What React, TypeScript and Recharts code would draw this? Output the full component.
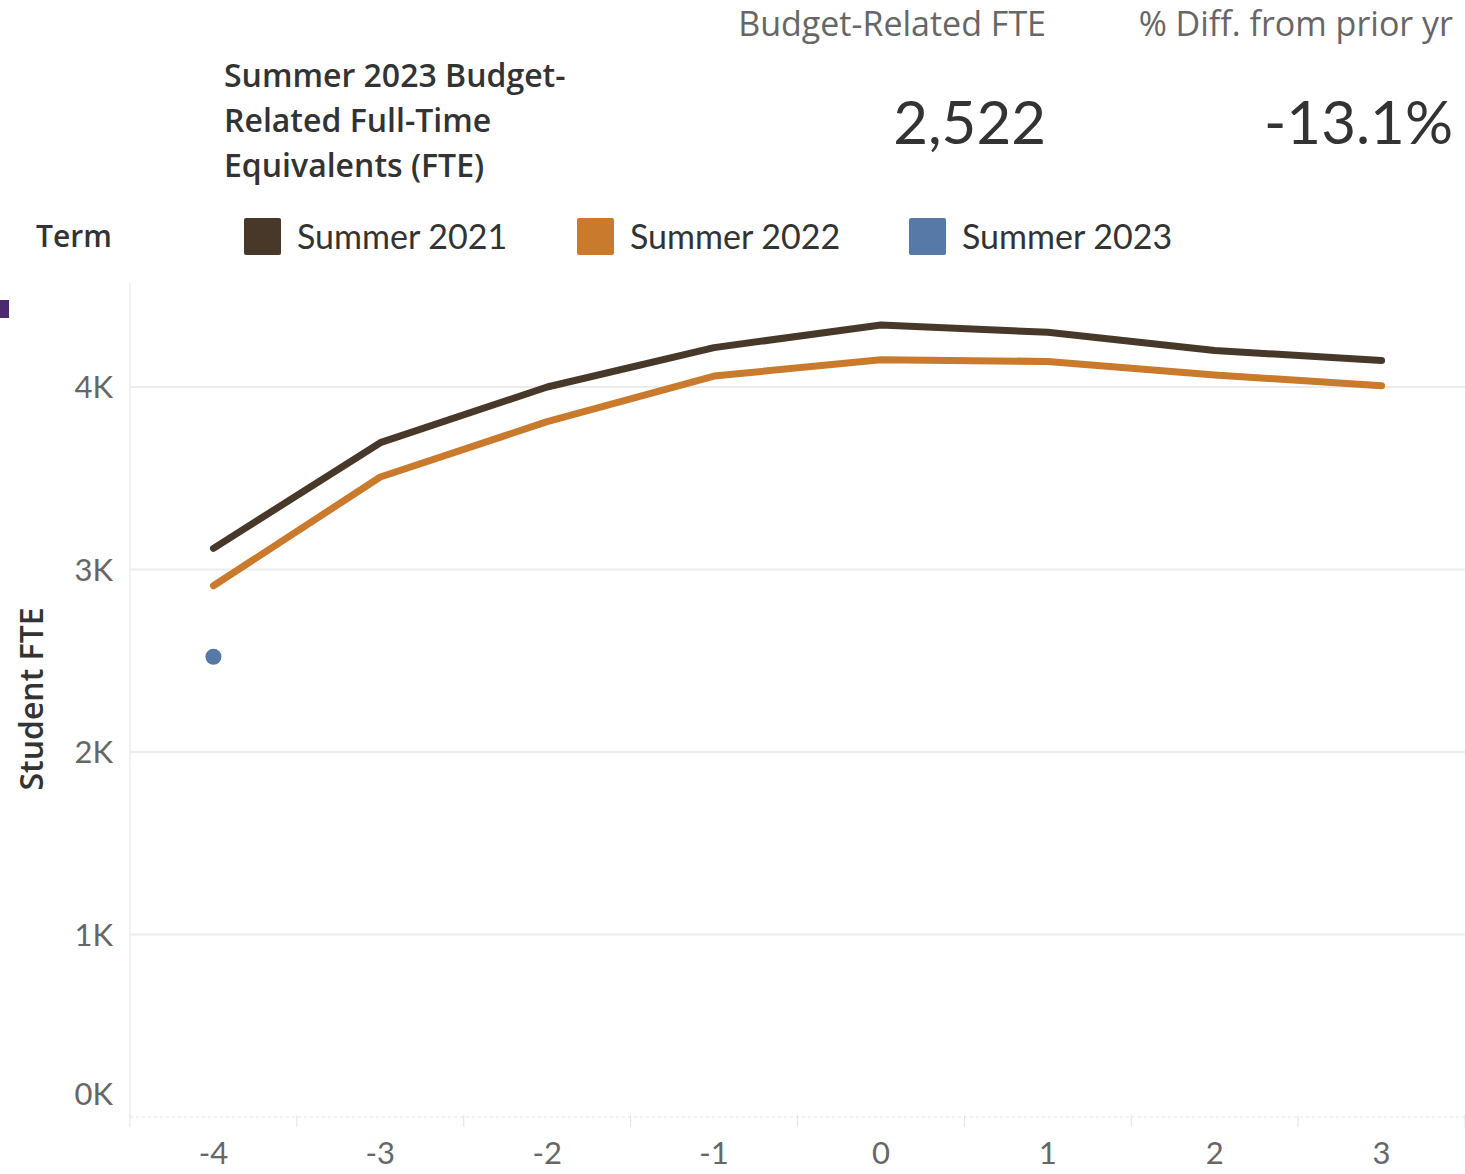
import { CartesianGrid, Line, LineChart, XAxis, YAxis } from 'recharts';

// ===== Data =====
const weeks = [-4, -3, -2, -1, 0, 1, 2, 3];
const summer2021 = [3116, 3695, 4000, 4216, 4340, 4300, 4200, 4145];
const summer2022 = [2911, 3507, 3810, 4060, 4150, 4140, 4066, 4007];
const summer2023 = [2522, null, null, null, null, null, null, null];
const yTicks = [0, 1000, 2000, 3000, 4000];

const rows = weeks.map((w, i) => ({
  week: w,
  s2021: summer2021[i],
  s2022: summer2022[i],
  s2023: summer2023[i],
}));

const COLOR = {
  s2021: '#47382a',
  s2022: '#c97a2c',
  s2023: '#5679a7',
  ink: '#333333',
  soft: '#666666',
  grid: '#ececec',
};

const FONT = 'Lato, "Open Sans", sans-serif';
const FONT_WIDE = '"Open Sans", Lato, sans-serif';

const W = 1465;
const H = 1174;
const PLOT_LEFT = 130;
const PLOT_TOP = 283;
const X_AXIS_H = 57;
const HALF_STEP = (W - PLOT_LEFT) / weeks.length / 2;

function XTick(props: any) {
  const { x, y, payload, index } = props;
  const top = y - 10;
  return (
    <g>
      <line x1={x - HALF_STEP} x2={x - HALF_STEP} y1={top} y2={top + 12} stroke="#e2e2e2" />
      {index === weeks.length - 1 && (
        <line x1={x + HALF_STEP} x2={x + HALF_STEP} y1={top} y2={top + 12} stroke="#e2e2e2" />
      )}
      <text
        x={x}
        y={top + 49}
        textAnchor="middle"
        fontSize={31}
        fontFamily={FONT}
        fill={COLOR.soft}
      >
        {payload.value}
      </text>
    </g>
  );
}

function YTick(props: any) {
  const { y, payload } = props;
  const v = payload.value as number;
  const dy = v === 0 ? -12 : 11;
  return (
    <text
      x={113}
      y={y + dy}
      textAnchor="end"
      fontSize={31}
      fontFamily={FONT}
      fill={COLOR.soft}
    >
      {`${v / 1000}K`}
    </text>
  );
}

function LegendItem({ color, label, left }: { color: string; label: string; left: number }) {
  return (
    <div style={{ position: 'absolute', left, top: 217, display: 'flex', alignItems: 'center' }}>
      <div style={{ width: 37, height: 37, background: color, borderRadius: 2 }} />
      <span style={{ marginLeft: 16, fontSize: 34, color: COLOR.ink, lineHeight: '38px' }}>{label}</span>
    </div>
  );
}

export default function App() {
  return (
    <div style={{ position: 'relative', width: W, height: H, fontFamily: FONT, background: '#fff', overflow: 'hidden' }}>
      <style>{`body { margin: 0; }`}</style>

      {/* ===== Header ===== */}
      <div
        style={{
          position: 'absolute',
          left: 224,
          top: 52,
          width: 440,
          fontFamily: FONT_WIDE,
          fontSize: 32,
          fontWeight: 600,
          lineHeight: '45px',
          color: COLOR.ink,
        }}
      >
        Summer 2023 Budget-
        <br />
        Related Full-Time
        <br />
        Equivalents (FTE)
      </div>
      <div style={{ position: 'absolute', right: W - 1046, top: 0, fontFamily: FONT_WIDE, fontSize: 34, color: COLOR.soft, whiteSpace: 'nowrap' }}>
        Budget-Related FTE
      </div>
      <div style={{ position: 'absolute', right: W - 1453, top: 0, fontFamily: FONT_WIDE, fontSize: 34, color: COLOR.soft, whiteSpace: 'nowrap' }}>
        % Diff. from prior yr
      </div>
      <div style={{ position: 'absolute', right: W - 1046, top: 83, fontSize: 60, color: COLOR.ink, whiteSpace: 'nowrap', lineHeight: '76px' }}>
        2,522
      </div>
      <div style={{ position: 'absolute', right: W - 1453, top: 83, fontSize: 60, color: COLOR.ink, whiteSpace: 'nowrap', lineHeight: '76px' }}>
        -13.1%
      </div>

      {/* ===== Legend ===== */}
      <div style={{ position: 'absolute', left: 36, top: 216, fontFamily: FONT_WIDE, fontSize: 30, fontWeight: 600, color: COLOR.ink, lineHeight: '40px' }}>
        Term
      </div>
      <LegendItem color={COLOR.s2021} label="Summer 2021" left={244} />
      <LegendItem color={COLOR.s2022} label="Summer 2022" left={577} />
      <LegendItem color={COLOR.s2023} label="Summer 2023" left={909} />

      <div style={{ position: 'absolute', left: 0, top: 300, width: 9, height: 18, background: '#4b2a6e' }} />

      {/* ===== Y axis title ===== */}
      <div
        style={{
          position: 'absolute',
          left: 30,
          top: 699,
          transform: 'translate(-50%, -50%) rotate(-90deg)',
          fontFamily: FONT_WIDE,
          fontSize: 32,
          fontWeight: 600,
          color: COLOR.ink,
          whiteSpace: 'nowrap',
        }}
      >
        Student FTE
      </div>

      {/* ===== Chart ===== */}
      <div style={{ position: 'absolute', left: 0, top: 0 }}>
        <LineChart width={W} height={H} data={rows} margin={{ top: PLOT_TOP, right: 0, bottom: 0, left: 0 }}>
          <CartesianGrid stroke={COLOR.grid} strokeWidth={2} vertical={false} horizontalValues={[1000, 2000, 3000, 4000]} />
          <XAxis
            dataKey="week"
            type="category"
            height={X_AXIS_H}
            padding={{ left: HALF_STEP, right: HALF_STEP }}
            axisLine={{ stroke: '#e4e4e4', strokeDasharray: '3 3' }}
            tickLine={false}
            tick={<XTick />}
            interval={0}
          />
          <YAxis
            width={PLOT_LEFT}
            domain={[0, 4570]}
            ticks={yTicks}
            axisLine={{ stroke: '#f2f2f2', strokeWidth: 2 }}
            tickLine={false}
            tick={<YTick />}
            interval={0}
          />
          <Line
            dataKey="s2021"
            name="Summer 2021"
            type="linear"
            stroke={COLOR.s2021}
            strokeWidth={7}
            strokeLinecap="round"
            strokeLinejoin="round"
            dot={false}
            activeDot={false}
            isAnimationActive={false}
          />
          <Line
            dataKey="s2022"
            name="Summer 2022"
            type="linear"
            stroke={COLOR.s2022}
            strokeWidth={7}
            strokeLinecap="round"
            strokeLinejoin="round"
            dot={false}
            activeDot={false}
            isAnimationActive={false}
          />
          <Line
            dataKey="s2023"
            name="Summer 2023"
            type="linear"
            stroke="none"
            dot={{ r: 8, fill: COLOR.s2023, stroke: 'none' }}
            activeDot={false}
            isAnimationActive={false}
          />
        </LineChart>
      </div>
    </div>
  );
}
